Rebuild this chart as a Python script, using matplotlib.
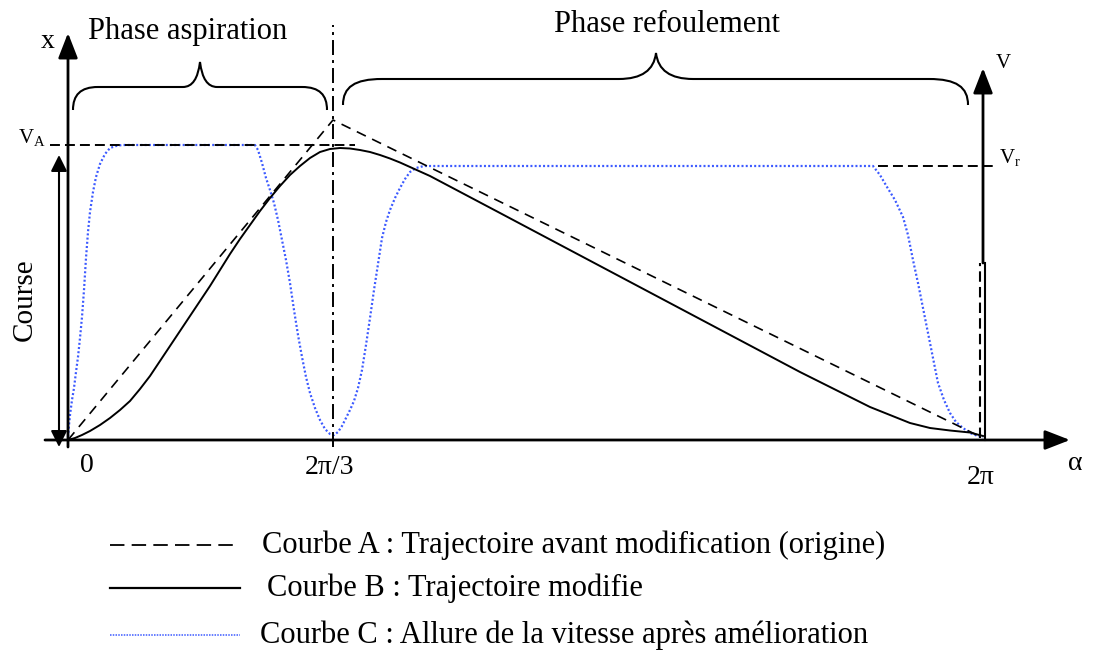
import matplotlib
matplotlib.use("Agg")
import matplotlib.pyplot as plt
from matplotlib.path import Path
from matplotlib.patches import PathPatch

plt.rcParams['font.family'] = ['Liberation Serif', 'DejaVu Serif']

# Schematic units: alpha runs from 0 (origin) to 915 (= 2*pi), stroke from 0 up.
ALPHA_TICKS = [0, 265, 915]
ALPHA_TICK_LABELS = ["0", "2\u03c0/3", "2\u03c0"]

# Courbe A : original trajectory (piecewise linear)
curve_a_x = [0, 265, 915]
curve_a_y = [0, 320, 2]

# Courbe B : modified trajectory
curve_b_x = [0, 7, 14, 22, 32, 42, 52, 62, 72, 82, 92, 102, 112, 122, 132,
             142, 152, 162, 172, 182, 192, 202, 212, 222, 232, 242, 252, 262,
             272, 282, 292, 302, 312, 322, 332, 342, 352, 362, 432, 532, 632,
             732, 762, 782, 802, 822, 842, 862, 882, 902, 915]
curve_b_y = [0, 2, 5, 9, 15, 22, 30, 39, 51, 64, 79, 94, 109, 124, 139,
             154, 170, 186, 201, 215, 229, 242, 254, 265, 274, 282, 288, 291,
             292, 291.5, 290, 288, 285, 281.5, 277.5, 273, 268.5, 264, 227,
             174, 121, 68, 53, 43, 33, 25, 17, 12, 9.5, 7.5, 4]

# Courbe C : speed profile after improvement
curve_c_x = ([0, 1, 2, 4, 6, 8, 10, 12, 14, 16, 18, 20, 22, 25, 28, 32, 37,
              42, 48, 54]
             + [187, 190, 194, 198, 202, 206, 210, 214, 218, 222, 226, 230,
                234, 238, 242, 247, 252, 257, 262, 266]
             + [270, 274, 278, 282, 286, 290, 294, 298, 302, 306, 310, 314,
                318, 322, 327, 332, 337, 342, 348, 356]
             + [805, 812, 819, 827, 835, 840, 845, 850, 854, 858, 862, 866,
                870, 876, 882, 888, 895, 902, 910, 915])
curve_c_y = ([3, 15, 25, 40, 52, 68, 83, 102, 123, 150, 182, 208, 228, 248,
              263, 276, 286, 292, 294, 295]
             + [295, 290, 277, 262, 250, 237, 220, 200, 180, 157, 130, 105,
                83, 63, 47, 32, 20, 11, 6, 5]
             + [8, 14, 22, 30, 39, 52, 70, 95, 122, 150, 176, 202, 218, 230,
                242, 252, 261, 268, 272, 274]
             + [274, 265, 253, 240, 223, 205, 180, 157, 137, 117, 97, 77, 57,
                40, 27, 18, 12, 7, 4, 3])

V_A = 295   # speed plateau during suction
V_R = 274   # speed plateau during discharge

BLUE = '#3c5aff'

fig = plt.figure(figsize=(10.99, 6.55), dpi=100)
ax = fig.add_axes([0, 0, 1, 1])
ax.set_xlim(-68, 1031)
ax.set_ylim(-215, 440)
ax.axis('off')

# --- curves ---------------------------------------------------------------
la, = ax.plot(curve_a_x, curve_a_y, color='black', lw=1.2, zorder=3)
la.set_dashes((6.0, 4.2))
ax.plot(curve_b_x, curve_b_y, color='black', lw=1.4, zorder=3)
lc, = ax.plot(curve_c_x, curve_c_y, color=BLUE, lw=1.6, zorder=2)
lc.set_dashes((0.9, 1.0))

# --- axes arrows ------------------------------------------------------------
big = dict(arrowstyle='-|>,head_length=0.9,head_width=0.35', lw=2,
           color='black', mutation_scale=17, shrinkA=0, shrinkB=0)
ax.annotate('', xy=(1002, 0), xytext=(-23, 0), arrowprops=big, zorder=5)
ax.annotate('', xy=(0, 407), xytext=(0, -7), arrowprops=big, zorder=5)
ax.annotate('', xy=(915, 372), xytext=(915, 177), arrowprops=big, zorder=5)
ax.plot([917, 917], [0, 177], color='black', lw=1.5, zorder=5)
vd, = ax.plot([912, 912], [2, 177], color='black', lw=1.5, zorder=5)
vd.set_dashes((5, 2.5))

# stroke ("Course") double arrow
small = dict(arrowstyle='<|-|>,head_length=0.7,head_width=0.35', lw=1.5,
             color='black', mutation_scale=14, shrinkA=0, shrinkB=0)
ax.annotate('', xy=(-9, 285), xytext=(-9, -7), arrowprops=small, zorder=5)

# vertical dash-dot at 2pi/3
dd, = ax.plot([265, 265], [-7, 415], color='black', lw=1.4, zorder=4)
dd.set_dashes((7.7, 2.6, 1.5, 2.6))

# speed reference levels
h1, = ax.plot([-18, 287], [V_A, V_A], color='black', lw=1.4, zorder=4)
h1.set_dashes((5.1, 2.6))
h2, = ax.plot([810, 929], [V_R, V_R], color='black', lw=1.4, zorder=4)
h2.set_dashes((5.1, 2.6))


# --- braces -----------------------------------------------------------------
def brace(x0, x1, xm, y_end, y_bar, y_tip, corner, tip):
    verts = [(x0, y_end),
             (x0, y_bar - 8), (x0 + corner * 0.3, y_bar), (x0 + corner, y_bar),
             (xm - tip, y_bar),
             (xm - 3, y_bar), (xm, y_tip),
             (xm + 3, y_bar), (xm + tip, y_bar),
             (x1 - corner, y_bar),
             (x1 - corner * 0.3, y_bar), (x1, y_bar - 8), (x1, y_end)]
    codes = [Path.MOVETO,
             Path.CURVE4, Path.CURVE4, Path.CURVE4,
             Path.LINETO,
             Path.CURVE3, Path.CURVE3,
             Path.CURVE3, Path.CURVE3,
             Path.LINETO,
             Path.CURVE4, Path.CURVE4, Path.CURVE4]
    ax.add_patch(PathPatch(Path(verts, codes), fill=False, lw=1.5,
                           edgecolor='black', zorder=4))


brace(5, 259, 132, 330, 353, 378, 25, 17)
brace(275, 900, 588, 335, 361, 387, 39, 37)

# --- text -------------------------------------------------------------------
ax.text(120, 408, "Phase aspiration", fontsize=22, ha='center', va='center')
ax.text(599, 415, "Phase refoulement", fontsize=22, ha='center', va='center')
ax.text(-20, 398, "x", fontsize=20, ha='center', va='center')
ax.text(-36, 302, r"$\mathregular{V_A}$", fontsize=15, ha='center', va='center')
ax.text(935, 377, "V", fontsize=15, ha='center', va='center')
ax.text(942, 283, r"$\mathregular{V_r}$", fontsize=15, ha='center', va='center')
ax.text(-43, 140, "Course", fontsize=21, rotation=90, ha='center', va='center')
ax.text(1007, -23, "\u03b1", fontsize=20, ha='center', va='center')

tick_y = [-26, -28, -37]
tick_dx = [19, -3, -2]
for xt, lab, yt, dx in zip(ALPHA_TICKS, ALPHA_TICK_LABELS, tick_y, tick_dx):
    ax.text(xt + dx, yt, lab, fontsize=20, ha='center', va='center')

# --- legend -----------------------------------------------------------------
legend_y = [-105, -148, -195]
legend_text = ["Courbe A : Trajectoire avant modification (origine)",
               "Courbe B : Trajectoire modifie",
               "Courbe C : Allure de la vitesse apr\u00e8s am\u00e9lioration"]
legend_x = [194, 199, 192]

ka, = ax.plot([42, 172], [legend_y[0]] * 2, color='black', lw=1.3)
ka.set_dashes((8, 4))
ax.plot([42, 172], [legend_y[1]] * 2, color='black', lw=1.6)
kc, = ax.plot([42, 172], [legend_y[2]] * 2, color=BLUE, lw=1.1)
kc.set_dashes((1, 0.8))
for xt, yt, lab in zip(legend_x, legend_y, legend_text):
    ax.text(xt, yt, lab, fontsize=22, ha='left', va='center')

fig.savefig("out.png", dpi=100)
